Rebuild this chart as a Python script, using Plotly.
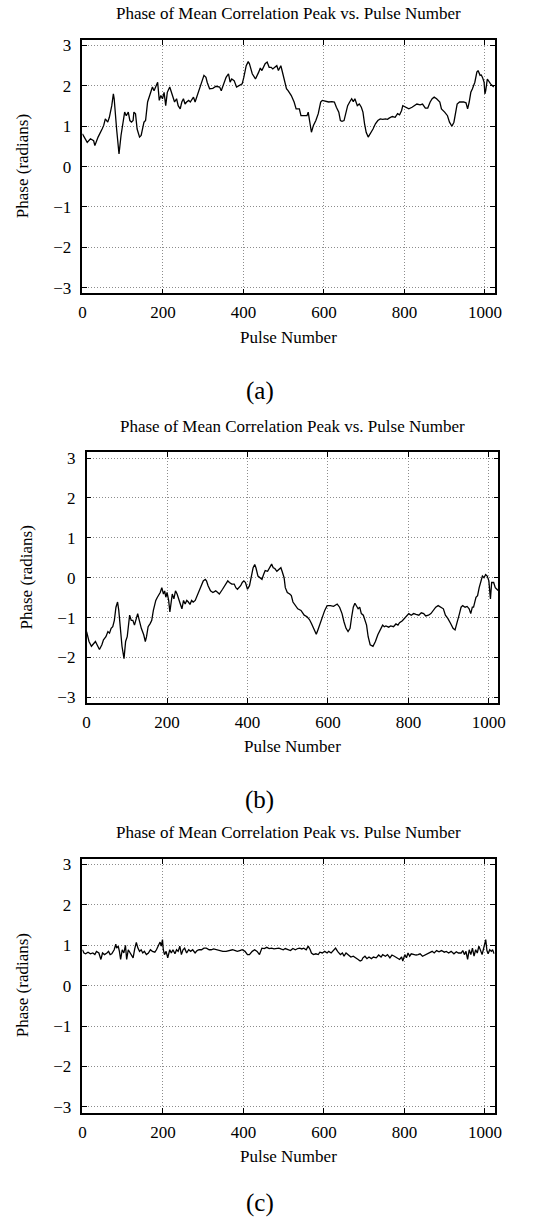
import math
import plotly.graph_objects as go

# ---------------- data ----------------
pulse_a = [0, 8, 12, 20, 28, 31, 39, 49, 53, 57, 63, 67, 73, 77, 79, 85, 91, 96, 99, 105,
           109, 114, 118, 122, 126, 128, 132, 136, 142, 146, 153, 157, 162, 169, 174, 178,
           183, 187, 191, 195, 199, 203, 207, 211, 217, 221, 225, 229, 234, 238, 243, 247,
           251, 255, 259, 264, 268, 276, 280, 284, 288, 292, 296, 302, 307, 310, 316, 324,
           332, 341, 345, 349, 357, 363, 367, 371, 377, 383, 389, 397, 401, 407, 412, 415,
           422, 430, 438, 442, 446, 450, 454, 459, 464, 469, 473, 478, 483, 487, 493, 496,
           501, 507, 511, 519, 526, 531, 539, 543, 551, 558, 561, 566, 569, 574, 580, 586,
           592, 596, 604, 612, 620, 626, 631, 637, 641, 645, 650, 655, 659, 664, 669, 673,
           677, 683, 688, 693, 697, 701, 705, 710, 714, 718, 722, 728, 734, 740, 746, 753,
           758, 762, 770, 777, 783, 788, 793, 796, 803, 811, 819, 826, 831, 839, 845, 852,
           858, 864, 869, 874, 880, 888, 892, 900, 907, 912, 918, 923, 927, 931, 937, 947,
           953, 957, 961, 965, 969, 975, 980, 983, 988, 991, 994, 998, 1000, 1002, 1006,
           1010, 1014, 1018, 1022]
phase_a = [0.81, 0.69, 0.60, 0.69, 0.64, 0.52, 0.73, 0.93, 1.02, 1.18, 1.10, 1.22, 1.51, 1.80,
           1.68, 0.93, 0.31, 0.77, 0.93, 1.35, 1.26, 1.35, 1.14, 1.10, 1.14, 1.35, 1.31, 0.93,
           0.73, 0.77, 1.10, 1.14, 1.60, 1.84, 1.97, 1.88, 2.01, 2.09, 1.64, 1.76, 1.68, 1.84,
           1.51, 1.84, 1.97, 1.84, 1.76, 1.60, 1.68, 1.51, 1.43, 1.60, 1.68, 1.55, 1.60, 1.64,
           1.60, 1.72, 1.60, 1.72, 1.88, 2.01, 2.13, 2.26, 2.21, 2.09, 1.93, 1.94, 1.99, 1.97,
           1.88, 2.01, 2.21, 2.30, 2.09, 2.17, 2.13, 1.97, 2.01, 2.05, 2.21, 2.50, 2.60, 2.55,
           2.30, 2.17, 2.34, 2.44, 2.38, 2.46, 2.55, 2.59, 2.46, 2.46, 2.42, 2.46, 2.50, 2.38,
           2.50, 2.38, 2.17, 1.93, 1.88, 1.76, 1.60, 1.43, 1.43, 1.26, 1.26, 1.26, 1.35, 1.06,
           0.85, 1.02, 1.14, 1.31, 1.60, 1.64, 1.61, 1.60, 1.61, 1.60, 1.47, 1.35, 1.14, 1.12,
           1.14, 1.35, 1.51, 1.60, 1.68, 1.61, 1.68, 1.51, 1.55, 1.47, 1.35, 1.06, 0.85, 0.73,
           0.79, 0.85, 0.93, 1.06, 1.14, 1.18, 1.17, 1.18, 1.17, 1.20, 1.24, 1.22, 1.31, 1.28,
           1.39, 1.51, 1.47, 1.43, 1.47, 1.51, 1.55, 1.53, 1.55, 1.45, 1.45, 1.60, 1.68, 1.72,
           1.68, 1.60, 1.43, 1.35, 1.26, 1.10, 1.00, 1.10, 1.35, 1.55, 1.60, 1.60, 1.58, 1.43,
           1.60, 1.84, 1.93, 2.09, 2.34, 2.38, 2.26, 2.27, 2.21, 2.09, 1.80, 1.88, 2.17, 2.09,
           2.05, 2.01, 1.97]

pulse_b = [0, 6, 12, 18, 22, 26, 32, 38, 42, 48, 53, 57, 61, 65, 69, 73, 77, 80, 85, 88, 93,
           97, 101, 107, 111, 115, 119, 123, 127, 131, 136, 142, 146, 149, 153, 158, 162, 166,
           168, 172, 176, 183, 187, 191, 194, 197, 200, 204, 207, 210, 213, 217, 221, 225, 229,
           233, 237, 241, 245, 249, 253, 257, 261, 265, 270, 273, 279, 284, 290, 295, 298, 302,
           308, 314, 321, 326, 330, 338, 345, 351, 355, 361, 367, 371, 375, 379, 383, 387, 391,
           395, 400, 405, 410, 414, 418, 421, 426, 431, 436, 440, 444, 450, 456, 460, 464, 468,
           473, 478, 483, 486, 491, 494, 499, 505, 509, 513, 519, 525, 533, 537, 541, 548, 554,
           559, 566, 571, 575, 580, 586, 592, 598, 606, 614, 623, 629, 635, 640, 645, 650, 655,
           659, 663, 667, 671, 675, 679, 683, 688, 692, 696, 700, 705, 712, 718, 724, 730, 736,
           740, 744, 751, 756, 763, 769, 774, 778, 785, 791, 797, 801, 807, 813, 819, 826, 832,
           838, 843, 850, 856, 862, 868, 874, 881, 887, 892, 898, 905, 911, 916, 921, 927, 931,
           935, 941, 946, 951, 955, 959, 962, 968, 972, 976, 980, 984, 988, 992, 996, 1000,
           1004, 1007, 1012, 1016, 1020, 1024]
phase_b = [-1.35, -1.60, -1.72, -1.64, -1.60, -1.68, -1.80, -1.68, -1.56, -1.48, -1.35, -1.39,
           -1.27, -1.23, -1.07, -0.74, -0.61, -0.82, -1.39, -1.72, -2.03, -1.60, -1.48, -0.94,
           -1.07, -1.07, -1.19, -1.02, -0.90, -1.07, -1.27, -1.43, -1.60, -1.48, -1.23, -1.15,
           -1.07, -0.82, -0.74, -0.57, -0.49, -0.37, -0.25, -0.41, -0.33, -0.49, -0.37, -0.57,
           -0.86, -0.57, -0.41, -0.53, -0.33, -0.41, -0.57, -0.66, -0.78, -0.57, -0.66, -0.57,
           -0.61, -0.67, -0.57, -0.61, -0.57, -0.49, -0.37, -0.20, -0.08, -0.04, -0.08, -0.20,
           -0.33, -0.37, -0.33, -0.37, -0.41, -0.29, -0.16, -0.08, -0.12, -0.16, -0.16, -0.25,
           -0.29, -0.25, -0.20, -0.12, -0.08, -0.12, -0.29, -0.20, 0.04, 0.25, 0.33, 0.25, 0.04,
           0.00, -0.04, 0.08, 0.18, 0.16, 0.29, 0.34, 0.25, 0.23, 0.16, 0.20, 0.25, 0.16, 0.00,
           -0.25, -0.37, -0.41, -0.45, -0.61, -0.70, -0.78, -0.82, -0.90, -0.94, -0.98, -1.05,
           -1.15, -1.31, -1.42, -1.31, -1.15, -0.98, -0.82, -0.70, -0.70, -0.72, -0.66, -0.74,
           -0.90, -1.11, -1.27, -1.35, -1.27, -0.98, -0.74, -0.64, -0.70, -0.78, -0.74, -0.90,
           -0.94, -1.07, -1.19, -1.48, -1.68, -1.72, -1.60, -1.43, -1.31, -1.19, -1.23, -1.21,
           -1.24, -1.21, -1.23, -1.16, -1.19, -1.13, -1.08, -1.02, -0.94, -0.90, -0.94, -0.90,
           -0.92, -0.94, -0.88, -0.90, -0.96, -0.94, -0.90, -0.82, -0.74, -0.70, -0.74, -0.78,
           -0.94, -1.02, -1.15, -1.27, -1.31, -1.15, -0.90, -0.74, -0.70, -0.74, -0.72, -0.78,
           -0.90, -0.74, -0.74, -0.49, -0.45, -0.25, -0.12, 0.04, 0.00, 0.08, 0.04, -0.08,
           -0.53, -0.12, -0.12, -0.25, -0.29, -0.33]

pulse_c = [0, 4, 8, 14, 20, 26, 31, 35, 41, 46, 50, 55, 61, 65, 69, 73, 79, 83, 85, 89, 92,
           95, 99, 103, 107, 110, 114, 118, 122, 126, 130, 134, 138, 142, 146, 150, 154, 159,
           164, 169, 174, 180, 184, 188, 193, 196, 199, 201, 204, 208, 212, 217, 221, 225, 230,
           234, 238, 242, 246, 250, 254, 259, 264, 269, 274, 280, 285, 290, 296, 302, 308, 315,
           320, 326, 332, 341, 349, 357, 365, 373, 380, 385, 391, 397, 404, 410, 415, 422, 428,
           434, 440, 446, 452, 458, 464, 470, 476, 483, 488, 493, 499, 504, 511, 517, 523, 529,
           535, 540, 545, 550, 556, 561, 566, 569, 574, 580, 586, 590, 596, 602, 608, 612, 618,
           624, 629, 634, 641, 646, 650, 655, 661, 667, 673, 680, 685, 690, 694, 697, 702, 707,
           712, 718, 723, 730, 736, 742, 746, 753, 758, 764, 769, 775, 779, 783, 788, 793, 796,
           801, 805, 809, 813, 817, 823, 829, 834, 839, 845, 851, 858, 864, 869, 874, 880, 886,
           892, 899, 904, 910, 916, 923, 929, 934, 941, 945, 949, 953, 957, 961, 965, 969, 973,
           977, 981, 985, 989, 993, 996, 999, 1002, 1005, 1008, 1012, 1016, 1019, 1023]
phase_c = [0.89, 0.81, 0.79, 0.83, 0.79, 0.81, 0.77, 0.85, 0.81, 0.65, 0.81, 0.77, 0.81, 0.85,
           0.77, 0.79, 0.89, 1.03, 0.93, 0.98, 0.85, 0.65, 0.89, 0.81, 1.00, 0.65, 0.89, 0.81,
           0.77, 0.69, 0.91, 1.07, 0.93, 0.85, 0.89, 0.81, 0.85, 0.77, 0.81, 0.89, 0.85, 0.83,
           0.89, 0.98, 1.08, 0.98, 1.14, 0.89, 0.77, 0.85, 0.69, 0.89, 0.81, 0.89, 0.79, 0.89,
           0.85, 0.98, 0.77, 0.89, 0.93, 0.81, 0.89, 0.85, 0.89, 0.81, 0.87, 0.89, 0.89, 0.93,
           0.93, 0.89, 0.89, 0.91, 0.89, 0.87, 0.85, 0.85, 0.87, 0.89, 0.87, 0.85, 0.87, 0.89,
           0.85, 0.77, 0.77, 0.85, 0.89, 0.85, 0.77, 0.93, 0.92, 0.95, 0.92, 0.93, 0.91, 0.93,
           0.93, 0.91, 0.89, 0.92, 0.89, 0.87, 0.92, 0.89, 0.92, 0.93, 0.91, 0.93, 0.89, 0.98,
           0.89, 0.81, 0.77, 0.79, 0.77, 0.83, 0.81, 0.85, 0.81, 0.85, 0.81, 0.89, 0.93, 0.85,
           0.77, 0.81, 0.73, 0.81, 0.77, 0.71, 0.73, 0.69, 0.65, 0.61, 0.63, 0.69, 0.73, 0.67,
           0.71, 0.67, 0.71, 0.69, 0.76, 0.71, 0.77, 0.73, 0.77, 0.69, 0.76, 0.73, 0.71, 0.69,
           0.65, 0.71, 0.61, 0.77, 0.69, 0.81, 0.73, 0.79, 0.77, 0.76, 0.77, 0.79, 0.73, 0.76,
           0.81, 0.84, 0.85, 0.81, 0.87, 0.84, 0.87, 0.83, 0.85, 0.81, 0.85, 0.79, 0.84, 0.81,
           0.81, 0.87, 0.77, 0.85, 0.65, 0.89, 0.77, 0.93, 0.73, 0.89, 0.81, 0.98, 0.85, 0.77,
           0.89, 0.99, 1.14, 0.87, 0.79, 0.89, 0.85, 0.89, 0.79]

x_ticks = [0, 200, 400, 600, 800, 1000]
y_ticks = [-3, -2, -1, 0, 1, 2, 3]
title_text = "Phase of Mean Correlation Peak vs. Pulse Number"
x_label = "Pulse Number"
y_label = "Phase (radians)"
captions = ["(a)", "(b)", "(c)"]

# ---------------- layout helpers (pixel geometry) ----------------
W, H = 544, 1226
FONT = "'Liberation Serif', 'Times New Roman', Times, serif"
TXT = 17


def py(p):
    return 1 - p / H


def px(p):
    return p / W


# plot area boxes: (left, right, top, bottom) in pixels
boxes = [(80, 500.7, 37, 292), (84.3, 504.7, 452, 704), (80, 500.7, 860.7, 1116)]
series = [(pulse_a, phase_a), (pulse_b, phase_b), (pulse_c, phase_c)]

fig = go.Figure()
annotations = []
layout = {}
for i, ((xs, ys), (l, r, t, b)) in enumerate(zip(series, boxes)):
    n = "" if i == 0 else str(i + 1)
    fig.add_trace(go.Scatter(x=xs, y=ys, mode="lines", xaxis="x" + n, yaxis="y" + n,
                             line=dict(color="black", width=1.3), showlegend=False,
                             hoverinfo="skip"))
    common = dict(ticks="inside", ticklen=5, tickwidth=1, tickcolor="black", mirror="ticks",
                  showline=True, linecolor="black", linewidth=1.5, showgrid=True,
                  gridcolor="#8c8c8c", griddash="1px,2px", gridwidth=1, zeroline=False,
                  tickfont=dict(family=FONT, size=TXT, color="black"))
    layout["xaxis" + n] = dict(common, domain=[px(l), px(r)], range=[0, 1024],
                               tickvals=x_ticks, anchor="y" + n, ticklabelstandoff=3)
    layout["yaxis" + n] = dict(common, domain=[py(b), py(t)], range=[-math.pi, math.pi],
                               tickvals=y_ticks, anchor="x" + n, ticklabelstandoff=6)
    cx = (l + r) / 2
    annotations.append(dict(text=title_text, x=px(cx), y=py(t - 26), xref="paper",
                            yref="paper", showarrow=False, xanchor="center", yanchor="middle",
                            font=dict(family=FONT, size=TXT, color="black")))
    annotations.append(dict(text=x_label, x=px(cx), y=py(b + 44), xref="paper", yref="paper",
                            showarrow=False, xanchor="center", yanchor="middle",
                            font=dict(family=FONT, size=TXT, color="black")))
    annotations.append(dict(text=y_label, x=px(l - 61), y=py((t + b) / 2), xref="paper",
                            yref="paper", showarrow=False, xanchor="center", yanchor="middle",
                            textangle=-90, font=dict(family=FONT, size=TXT, color="black")))
    annotations.append(dict(text=captions[i], x=px(261), y=py(b + 98 if i < 2 else b + 91),
                            xref="paper", yref="paper", showarrow=False, xanchor="center",
                            yanchor="middle", font=dict(family=FONT, size=25, color="black")))

fig.update_layout(width=W, height=H, margin=dict(l=0, r=0, t=0, b=0),
                  paper_bgcolor="white", plot_bgcolor="white", annotations=annotations,
                  **layout)
fig.write_html("out.html")
